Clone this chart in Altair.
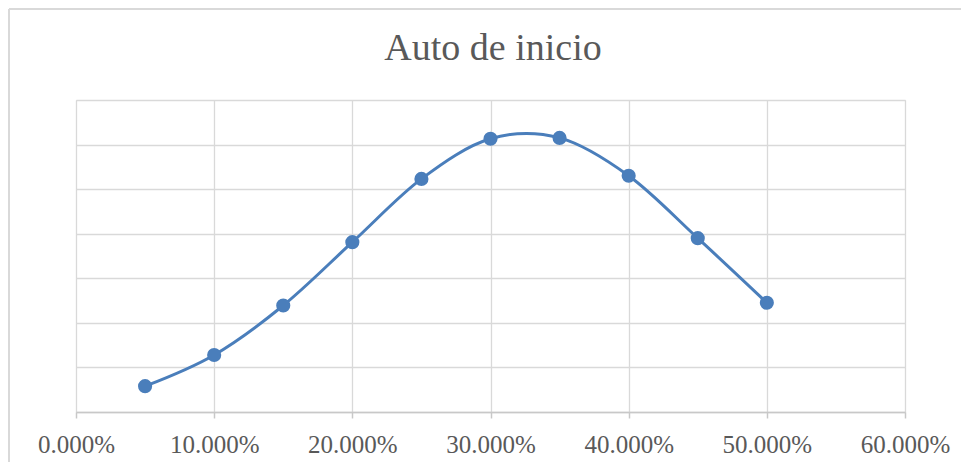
import altair as alt
import pandas as pd

# Data (y in gridline units; y axis unlabeled)
x_values = [0.05, 0.10, 0.15, 0.20, 0.25, 0.30, 0.35, 0.40, 0.45, 0.50]
y_values = [0.58, 1.28, 2.39, 3.81, 5.23, 6.13, 6.15, 5.30, 3.90, 2.45]
x_ticks = [0.0, 0.1, 0.2, 0.3, 0.4, 0.5, 0.6]
y_grid = [0, 1, 2, 3, 4, 5, 6, 7]
title_text = "Auto de inicio"

df = pd.DataFrame({"x": x_values, "y": y_values})

BLUE = "#4A7EBB"
GRID = "#D9D9D9"
TEXT = "#595959"
FONT = "Liberation Serif"

x_enc = alt.X(
    "x:Q",
    scale=alt.Scale(domain=[0, 0.6], nice=False, zero=False),
    axis=alt.Axis(
        values=x_ticks,
        format=".3%",
        title=None,
        labelFont=FONT,
        labelFontSize=25,
        labelColor=TEXT,
        labelPadding=14,
        labelFlush=False,
        labelOverlap=False,
        labelBound=False,
        tickSize=6,
        tickColor="#C8C8C8",
        tickWidth=1.5,
        domainColor="#C8C8C8",
        domainWidth=1.5,
        gridColor=GRID,
        gridWidth=1.3,
        grid=True,
    ),
)
y_enc = alt.Y(
    "y:Q",
    scale=alt.Scale(domain=[0, 7], nice=False),
    axis=alt.Axis(
        values=y_grid,
        labels=False,
        ticks=False,
        domain=False,
        title=None,
        gridColor=GRID,
        gridWidth=1.3,
    ),
)

base = alt.Chart(df)
line = base.mark_line(
    color=BLUE, strokeWidth=3, interpolate="cardinal"
).encode(x=x_enc, y=y_enc)
points = base.mark_point(
    filled=True, color=BLUE, size=200, opacity=1, shape="circle"
).encode(x="x:Q", y="y:Q")

single = pd.DataFrame({"title": [title_text]})

# light chart-area frame (top and left edges, as visible in the reference)
frame_left = alt.Chart(single).mark_rule(color=GRID, strokeWidth=2).encode(
    x=alt.value(-67), y=alt.value(-91), y2=alt.value(370)
)
frame_top = alt.Chart(single).mark_rule(color=GRID, strokeWidth=2).encode(
    x=alt.value(-67), x2=alt.value(890), y=alt.value(-91)
)

# chart title, centred above the plot area
title = alt.Chart(single).mark_text(
    font=FONT,
    fontSize=38,
    color=TEXT,
    align="center",
    baseline="alphabetic",
).encode(
    text="title:N",
    x=alt.value(417),
    y=alt.value(-40),
)

chart = (
    alt.layer(frame_left, frame_top, title, line, points)
    .properties(
        width=829,
        height=312,
        padding={"left": 68, "top": 92, "right": 56, "bottom": 50},
        autosize=alt.AutoSizeParams(type="none"),
    )
    .configure_view(stroke=None)
    .configure(background="white")
)

chart.save("out.html", embed_options={"renderer": "svg", "actions": False})
